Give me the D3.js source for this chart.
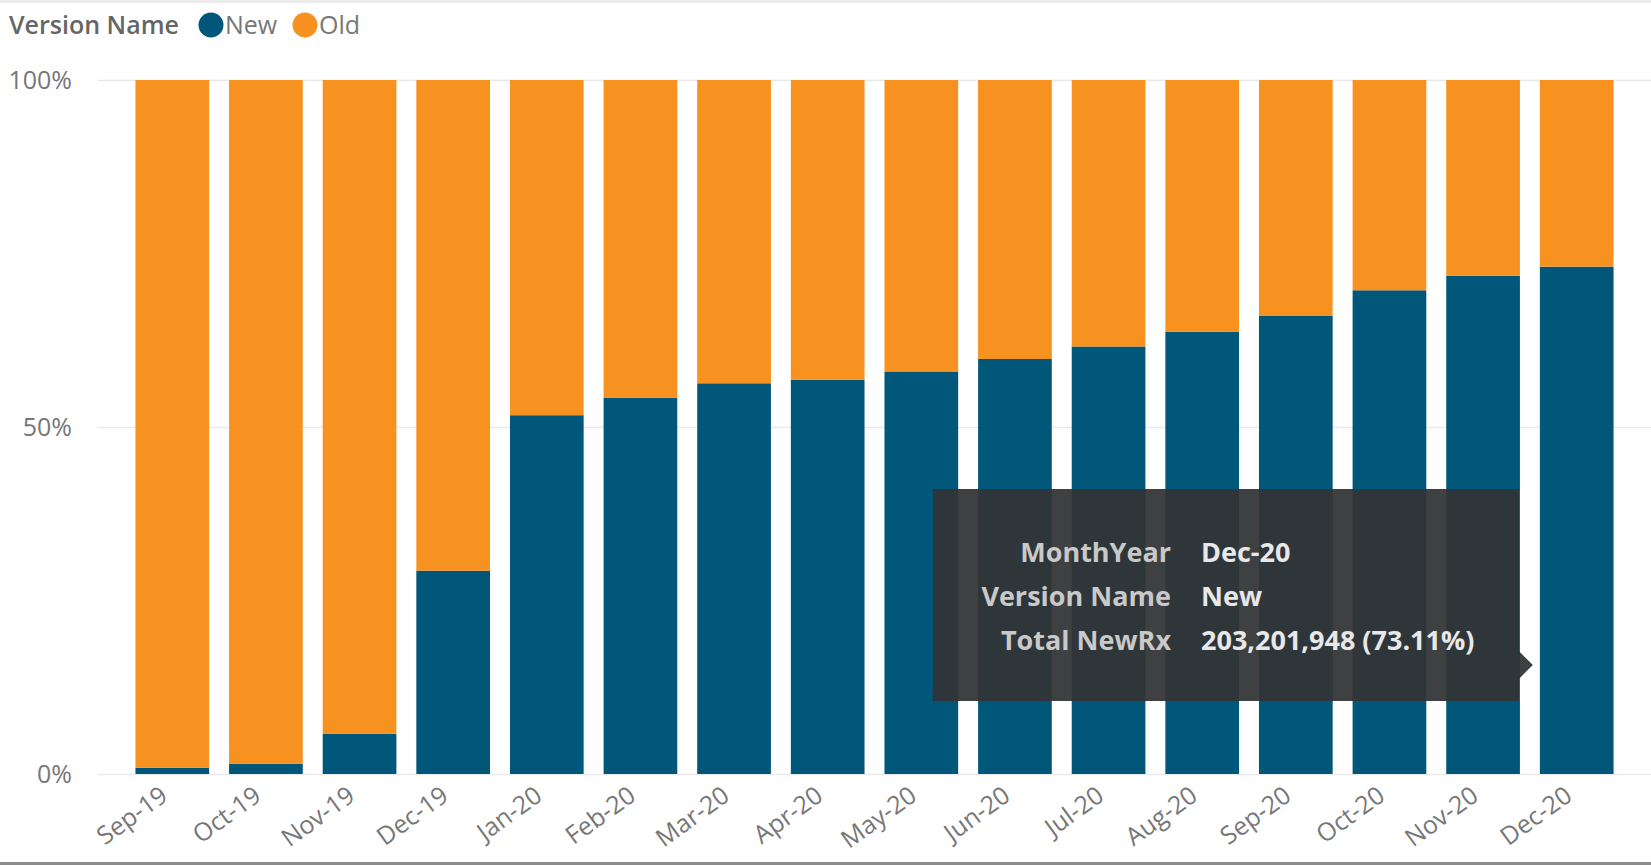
<!DOCTYPE html>
<html>
<head>
<meta charset="utf-8">
<script src="https://cdn.jsdelivr.net/npm/d3@7/dist/d3.min.js"></script>
<style>
  body { margin: 0; background: #fff; overflow: hidden; }
  svg { display: block; font-family: "Segoe UI", "Open Sans", sans-serif; }
  .tick text { fill: #777; }
</style>
</head>
<body>
<script>
// Data
const months = ['Sep-19', 'Oct-19', 'Nov-19', 'Dec-19', 'Jan-20', 'Feb-20', 'Mar-20', 'Apr-20',
                'May-20', 'Jun-20', 'Jul-20', 'Aug-20', 'Sep-20', 'Oct-20', 'Nov-20', 'Dec-20'];
const newShare = [0.009, 0.015, 0.058, 0.293, 0.517, 0.542, 0.563, 0.568,
                  0.580, 0.598, 0.616, 0.637, 0.660, 0.697, 0.718, 0.7311];
const seriesNames = ['New', 'Old'];
const seriesColors = ['#01577a', '#f7911f'];
const yTicks = [0, 0.5, 1];
const tooltipRows = [
  ['MonthYear', 'Dec-20'],
  ['Version Name', 'New'],
  ['Total NewRx', '203,201,948 (73.11%)']
];

{
  const width = 1651, height = 865;
  const margin = {top: 80, right: 0, bottom: 91, left: 98};

  const svg = d3.select('body').append('svg')
      .attr('width', width)
      .attr('height', height);

  const rows = months.map(function(m, i) {
    return {month: m, New: newShare[i], Old: 1 - newShare[i]};
  });
  const stack = d3.stack().keys(seriesNames)(rows);

  const x = d3.scaleBand()
      .domain(months)
      .range([margin.left, width - margin.right])
      .paddingInner(0.213)
      .paddingOuter(0.4);

  const y = d3.scaleLinear()
      .domain([0, 1])
      .range([height - margin.bottom, margin.top]);

  const color = d3.scaleOrdinal(seriesNames, seriesColors);

  // frame lines
  svg.append('rect')
      .attr('x', 0).attr('y', 0)
      .attr('width', width).attr('height', 3)
      .attr('fill', '#ececec');
  svg.append('rect')
      .attr('x', 0).attr('y', height - 3)
      .attr('width', width).attr('height', 3)
      .attr('fill', '#8c8c8c');

  // gridlines
  svg.append('g')
    .selectAll('line')
    .data(yTicks)
    .join('line')
      .attr('x1', margin.left)
      .attr('x2', width - margin.right)
      .attr('y1', function(d) { return y(d) + 0.5; })
      .attr('y2', function(d) { return y(d) + 0.5; })
      .attr('stroke', '#e9e9e9')
      .attr('stroke-width', 1.5);

  // y axis
  const yAxis = svg.append('g')
      .attr('transform', 'translate(' + (margin.left - 26) + ',0)')
      .call(d3.axisLeft(y).tickValues(yTicks).tickFormat(d3.format('.0%')).tickSize(0).tickPadding(0));
  yAxis.select('.domain').remove();
  yAxis.selectAll('text')
      .attr('font-size', 25)
      .attr('font-family', '"Segoe UI", "Open Sans", sans-serif');

  // bars
  svg.append('g')
    .selectAll('g')
    .data(stack)
    .join('g')
      .attr('fill', function(d) { return color(d.key); })
    .selectAll('rect')
    .data(function(d) { return d; })
    .join('rect')
      .attr('x', function(d) { return x(d.data.month); })
      .attr('y', function(d) { return y(d[1]); })
      .attr('width', x.bandwidth())
      .attr('height', function(d) { return y(d[0]) - y(d[1]); });

  // x axis
  const xAxis = svg.append('g')
      .attr('transform', 'translate(0,' + (height - margin.bottom) + ')')
      .call(d3.axisBottom(x).tickSize(0).tickPadding(0));
  xAxis.select('.domain').remove();
  xAxis.selectAll('text')
      .attr('font-size', 25)
      .attr('font-family', '"Segoe UI", "Open Sans", sans-serif')
      .attr('text-anchor', 'end')
      .attr('dy', 0)
      .attr('transform', 'translate(-3,25) rotate(-36)');

  // legend
  const legend = svg.append('g').attr('transform', 'translate(9,25)');
  legend.append('text')
      .attr('dy', '0.35em')
      .attr('font-size', 25)
      .attr('font-weight', 600)
      .attr('fill', '#666')
      .text('Version Name');
  const items = legend.selectAll('g.item')
    .data(seriesNames)
    .join('g')
      .attr('class', 'item')
      .attr('transform', function(d, i) { return 'translate(' + (202 + i * 94) + ',0)'; });
  items.append('circle')
      .attr('r', 12.5)
      .attr('fill', function(d) { return color(d); });
  items.append('text')
      .attr('x', 14)
      .attr('dy', '0.35em')
      .attr('font-size', 25)
      .attr('fill', '#777')
      .text(function(d) { return d; });

  // tooltip overlay
  const tipX = x('Dec-20') - 7;   // arrow tip
  const tipY = 665;
  const tip = svg.append('g');
  tip.append('path')
      .attr('d', 'M' + (tipX - 600) + ',489 H' + (tipX - 14) + ' V' + (tipY - 14) +
                 ' L' + tipX + ',' + tipY + ' L' + (tipX - 14) + ',' + (tipY + 14) +
                 ' V701 H' + (tipX - 600) + ' Z')
      .attr('fill', 'rgba(50,52,53,0.94)');
  const tr = tip.selectAll('g')
    .data(tooltipRows)
    .join('g')
      .attr('transform', function(d, i) { return 'translate(0,' + (553 + i * 44) + ')'; });
  tr.append('text')
      .attr('x', 1171)
      .attr('dy', '0.35em')
      .attr('text-anchor', 'end')
      .attr('font-size', 27)
      .attr('font-weight', 700)
      .attr('fill', '#c9c9c9')
      .text(function(d) { return d[0]; });
  tr.append('text')
      .attr('x', 1201)
      .attr('dy', '0.35em')
      .attr('font-size', 27)
      .attr('font-weight', 700)
      .attr('fill', '#e8e8e8')
      .text(function(d) { return d[1]; });
}
</script>
</body>
</html>
